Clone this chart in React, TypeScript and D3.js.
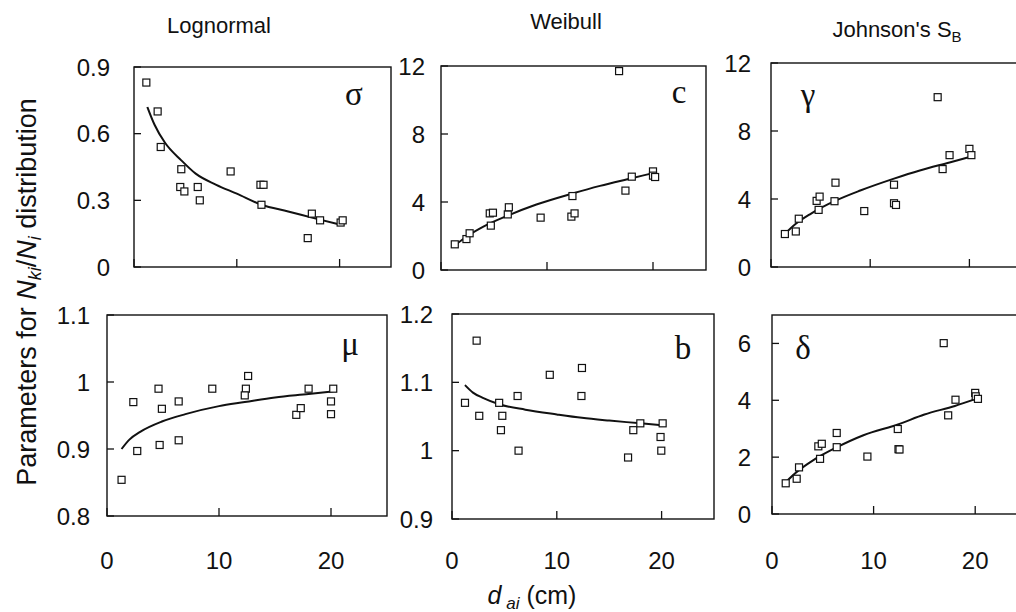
import React from "react";
import * as d3 from "d3";

// ---------- data ----------
const sigmaX = [1.2, 2.3, 2.6, 4.6, 4.5, 4.9, 6.2, 6.4, 9.4, 12.3, 12.6, 12.4, 16.9, 17.3, 18.1, 20.1, 20.3];
const sigmaY = [0.83, 0.70, 0.54, 0.44, 0.36, 0.34, 0.36, 0.30, 0.43, 0.37, 0.37, 0.28, 0.13, 0.24, 0.21, 0.20, 0.21];
const sigmaFitX = [1.3, 2, 3, 4.6, 6, 8, 10, 12.4, 15, 17.5, 20.1];
const sigmaFitY = [0.72, 0.64, 0.56, 0.48, 0.42, 0.37, 0.33, 0.28, 0.25, 0.22, 0.19];

const cX = [1.3, 2.4, 2.7, 4.7, 4.6, 4.9, 6.3, 6.4, 9.4, 12.4, 12.3, 12.6, 16.8, 17.4, 18.0, 20.0, 20.0, 20.2];
const cY = [1.51, 1.82, 2.16, 2.61, 3.33, 3.37, 3.27, 3.69, 3.08, 4.35, 3.14, 3.33, 11.7, 4.67, 5.49, 5.80, 5.55, 5.47];
const cFitX = [1.3, 2.5, 4, 6.3, 9, 12.4, 15, 18, 20];
const cFitY = [1.45, 2.0, 2.55, 3.2, 3.85, 4.5, 4.95, 5.4, 5.7];

const gammaX = [1.4, 2.5, 2.8, 4.6, 4.9, 4.8, 6.5, 6.4, 9.4, 12.4, 12.4, 12.6, 16.8, 17.3, 18.0, 20.0, 20.2];
const gammaY = [1.94, 2.09, 2.84, 3.89, 4.14, 3.36, 4.96, 3.87, 3.29, 4.84, 3.75, 3.65, 9.99, 5.76, 6.58, 6.95, 6.58];
const gammaFitX = [1.4, 2.5, 4, 6.5, 9, 12.4, 15, 18, 20.2];
const gammaFitY = [1.95, 2.54, 3.13, 3.9, 4.5, 5.2, 5.68, 6.15, 6.5];

const muX = [1.3, 2.35, 2.7, 4.6, 4.9, 4.7, 6.4, 6.4, 9.4, 12.6, 12.4, 12.3, 16.9, 17.3, 18.0, 20.2, 20.0, 20.0];
const muY = [0.854, 0.970, 0.897, 0.990, 0.960, 0.906, 0.971, 0.913, 0.990, 1.009, 0.990, 0.980, 0.951, 0.961, 0.990, 0.990, 0.971, 0.952];
const muFitX = [1.3, 2, 3, 4.9, 7, 10, 12.3, 15, 18, 20.2];
const muFitY = [0.900, 0.914, 0.926, 0.941, 0.952, 0.964, 0.970, 0.977, 0.982, 0.986];

const bX = [1.24, 2.35, 2.6, 4.5, 4.8, 4.67, 6.26, 6.35, 9.33, 12.4, 12.35, 16.8, 17.3, 17.97, 20.1, 19.9, 19.97];
const bY = [1.070, 1.161, 1.051, 1.070, 1.051, 1.030, 1.080, 1.000, 1.111, 1.121, 1.080, 0.990, 1.030, 1.040, 1.040, 1.020, 1.000];
const bFitX = [1.24, 2, 3, 4.5, 7, 10, 12.4, 15, 18, 20.1];
const bFitY = [1.096, 1.085, 1.077, 1.068, 1.060, 1.053, 1.048, 1.044, 1.040, 1.037];

const deltaX = [1.35, 2.43, 2.66, 4.56, 4.9, 4.73, 6.37, 6.37, 9.39, 12.38, 12.45, 12.55, 16.9, 17.34, 18.06, 20.0, 20.05, 20.27];
const deltaY = [1.08, 1.24, 1.64, 2.38, 2.47, 1.94, 2.85, 2.35, 2.02, 2.99, 2.28, 2.27, 6.01, 3.47, 4.02, 4.26, 4.14, 4.05];
const deltaFitX = [1.35, 2.5, 4, 6.4, 9, 12.4, 15, 18, 20];
const deltaFitY = [1.12, 1.5, 1.88, 2.35, 2.77, 3.15, 3.5, 3.8, 4.04];

const xDomain = [0, 25];
const xTicks = [0, 10, 20];
const columnTitles = ["Lognormal", "Weibull", "Johnson's S"];

// ---------- layout ----------
type Panel = {
  x: number[]; y: number[]; fx: number[]; fy: number[];
  yDomain: number[]; yTicks: number[]; yLabels: string[];
  left: number; right: number; top: number; bottom: number;
  labelEnd: number; symbol: string; symX: number; symY: number;
  showX: boolean;
};

const panels: Panel[] = [
  { x: sigmaX, y: sigmaY, fx: sigmaFitX, fy: sigmaFitY, yDomain: [0, 0.9], yTicks: [0, 0.3, 0.6, 0.9], yLabels: ["0", "0.3", "0.6", "0.9"],
    left: 134, right: 391, top: 67, bottom: 267, labelEnd: 110, symbol: "σ", symX: 354, symY: 105, showX: false },
  { x: cX, y: cY, fx: cFitX, fy: cFitY, yDomain: [0, 12], yTicks: [0, 4, 8, 12], yLabels: ["0", "4", "8", "12"],
    left: 441, right: 706, top: 66, bottom: 270, labelEnd: 425, symbol: "c", symX: 679, symY: 103, showX: false },
  { x: gammaX, y: gammaY, fx: gammaFitX, fy: gammaFitY, yDomain: [0, 12], yTicks: [0, 4, 8, 12], yLabels: ["0", "4", "8", "12"],
    left: 771, right: 1019, top: 63, bottom: 267, labelEnd: 751, symbol: "γ", symX: 808, symY: 106, showX: false },
  { x: muX, y: muY, fx: muFitX, fy: muFitY, yDomain: [0.8, 1.1], yTicks: [0.8, 0.9, 1.0, 1.1], yLabels: ["0.8", "0.9", "1", "1.1"],
    left: 107, right: 387, top: 315, bottom: 516, labelEnd: 90, symbol: "μ", symX: 350, symY: 355, showX: true },
  { x: bX, y: bY, fx: bFitX, fy: bFitY, yDomain: [0.9, 1.2], yTicks: [0.9, 1.0, 1.1, 1.2], yLabels: ["0.9", "1", "1.1", "1.2"],
    left: 452, right: 714, top: 314, bottom: 519, labelEnd: 433, symbol: "b", symX: 683, symY: 359, showX: true },
  { x: deltaX, y: deltaY, fx: deltaFitX, fy: deltaFitY, yDomain: [0, 7], yTicks: [0, 2, 4, 6], yLabels: ["0", "2", "4", "6"],
    left: 772, right: 1026, top: 315, bottom: 514, labelEnd: 751, symbol: "δ", symX: 803, symY: 359, showX: true },
];

const SANS = "'Liberation Sans', Arial, Helvetica, sans-serif";
const SERIF = "'Liberation Serif', 'Times New Roman', serif";

function PanelView({ p }: { p: Panel }) {
  const xs = d3.scaleLinear().domain(xDomain).range([p.left, p.right]);
  const ys = d3.scaleLinear().domain(p.yDomain).range([p.bottom, p.top]);
  const line = d3.line<number>()
    .x((_, i) => xs(p.fx[i]))
    .y((v) => ys(v))
    .curve(d3.curveMonotoneX);
  const sq = 7;
  return (
    <g>
      <rect x={p.left} y={p.top} width={p.right - p.left} height={p.bottom - p.top}
        fill="none" stroke="#111" strokeWidth={1.4} />
      {p.yTicks.map((t, i) => (
        <g key={"yt" + i}>
          <line x1={p.left} x2={p.left + 7} y1={ys(t)} y2={ys(t)} stroke="#111" strokeWidth={1.3} />
          <text x={p.labelEnd} y={ys(t)} dy="0.36em" textAnchor="end" fontFamily={SANS} fontSize={24} fill="#111">
            {p.yLabels[i]}
          </text>
        </g>
      ))}
      {xTicks.map((t, i) => (
        <g key={"xt" + i}>
          <line x1={xs(t)} x2={xs(t)} y1={p.bottom} y2={p.bottom - 8} stroke="#111" strokeWidth={1.3} />
          {p.showX && (
            <text x={xs(t)} y={569} textAnchor="middle" fontFamily={SANS} fontSize={24} fill="#111">{t}</text>
          )}
        </g>
      ))}
      <path d={line(p.fy) || ""} fill="none" stroke="#111" strokeWidth={2} />
      {p.x.map((v, i) => (
        <rect key={"pt" + i} x={xs(v) - sq / 2} y={ys(p.y[i]) - sq / 2} width={sq} height={sq}
          fill="#fff" stroke="#111" strokeWidth={1.2} />
      ))}
      <text x={p.symX} y={p.symY} textAnchor="middle" fontFamily={SERIF} fontSize={33} fill="#111">{p.symbol}</text>
    </g>
  );
}

export default function App() {
  return (
    <svg width={1016} height={612} style={{ position: "absolute", left: 0, top: 0, background: "#fff" }}>
      <rect x={0} y={0} width={1016} height={612} fill="#fff" />
      <text x={219} y={33} textAnchor="middle" fontFamily={SANS} fontSize={22} fill="#111">{columnTitles[0]}</text>
      <text x={566} y={29} textAnchor="middle" fontFamily={SANS} fontSize={22} fill="#111">{columnTitles[1]}</text>
      <text x={897} y={37} textAnchor="middle" fontFamily={SANS} fontSize={22} fill="#111">
        {columnTitles[2]}
        <tspan fontSize={15} dy={5}>B</tspan>
      </text>
      {panels.map((p, i) => <PanelView key={i} p={p} />)}
      <text transform="translate(36,292) rotate(-90)" textAnchor="middle" fontFamily={SANS} fontSize={27} fill="#111">
        Parameters for <tspan fontStyle="italic">N</tspan>
        <tspan fontStyle="italic" fontSize={18} dy={5}>ki</tspan>
        <tspan dy={-5}>/</tspan>
        <tspan fontStyle="italic">N</tspan>
        <tspan fontStyle="italic" fontSize={18} dy={5}>i</tspan>
        <tspan dy={-5}> distribution</tspan>
      </text>
      <text x={532} y={604} textAnchor="middle" fontFamily={SANS} fontSize={25} fill="#111">
        <tspan fontStyle="italic">d</tspan>
        <tspan fontStyle="italic" fontSize={17} dy={5}> ai</tspan>
        <tspan dy={-5}> (cm)</tspan>
      </text>
    </svg>
  );
}
